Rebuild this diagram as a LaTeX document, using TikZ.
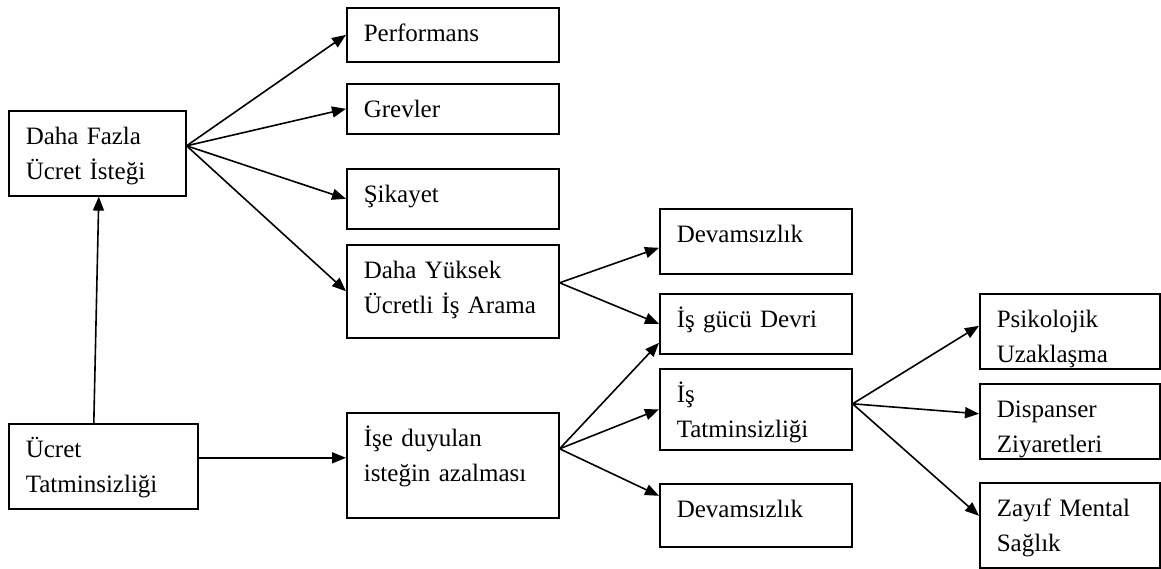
\documentclass[tikz,border=0pt]{standalone}
\usepackage{fontspec}
\setmainfont{Liberation Serif}
\usetikzlibrary{arrows.meta}

\begin{document}
\begin{tikzpicture}[>={Triangle[width=11pt,length=14pt]}, line width=1.6pt, kutu/.style={draw, anchor=north west, align=left, inner xsep=17pt, inner ysep=0pt, text height=34pt, font=\fontsize{25}{34.5}\selectfont}]
	\useasboundingbox (0pt, 0pt) rectangle (1161pt, -568pt);
	\draw (8.0pt, -110.0pt)node[kutu, text width=143pt, text depth=51pt](0){Daha Fazla\\Ücret İsteği};
	\draw (346.0pt, -7.0pt)node[kutu, text width=178pt, text depth=20pt](1){Performans};
	\draw (346.0pt, -83.0pt)node[kutu, text width=178pt, text depth=16pt](2){Grevler};
	\draw (346.0pt, -168.0pt)node[kutu, text width=178pt, text depth=26pt](3){Şikayet};
	\draw (346.0pt, -244.0pt)node[kutu, text width=178pt, text depth=59pt](4){Daha Yüksek\\Ücretli İş Arama};
	\draw (8.0pt, -423.0pt)node[kutu, text width=155pt, text depth=51pt](5){Ücret\\Tatminsizliği};
	\draw (346.0pt, -412.0pt)node[kutu, text width=178pt, text depth=71pt](6){İşe duyulan\\isteğin azalması};
	\draw (659.0pt, -208.0pt)node[kutu, text width=158pt, text depth=31pt](7){Devamsızlık};
	\draw (659.0pt, -293.0pt)node[kutu, text width=158pt, text depth=26pt](8){İş gücü Devri};
	\draw (659.0pt, -368.0pt)node[kutu, text width=158pt, text depth=47pt](9){İş\\Tatminsizliği};
	\draw (659.0pt, -483.0pt)node[kutu, text width=158pt, text depth=29pt](10){Devamsızlık};
	\draw (979.0pt, -293.0pt)node[kutu, text width=146pt, text depth=41pt](11){Psikolojik\\Uzaklaşma};
	\draw (979.0pt, -383.0pt)node[kutu, text width=146pt, text depth=41pt](12){Dispanser\\Ziyaretleri};
	\draw (979.0pt, -482.0pt)node[kutu, text width=146pt, text depth=51pt](13){Zayıf Mental\\Sağlık};
	\path[->] ([yshift=7.5pt]0.east) edge (1.west);
	\path[->] ([yshift=7.5pt]0.east) edge (2.west);
	\path[->] ([yshift=7.5pt]0.east) edge (3.west);
	\path[->] ([yshift=7.5pt]0.east) edge (4.west);
	\path[->] ([xshift=-9.5pt]5.north) edge ([xshift=1.5pt]0.south);
	\path[->] ([yshift=8.5pt]5.east) edge ([yshift=7.5pt]6.west);
	\path[->] ([yshift=8.5pt]4.east) edge ([yshift=-6.5pt]7.west);
	\path[->] ([yshift=8.5pt]4.east) edge (8.west);
	\path[->] ([yshift=16.5pt]6.east) edge ([yshift=-19pt]8.west);
	\path[->] ([yshift=16.5pt]6.east) edge (9.west);
	\path[->] ([yshift=16.5pt]6.east) edge ([yshift=19.5pt]10.west);
	\path[->] ([yshift=5.5pt]9.east) edge ([yshift=5.5pt]11.west);
	\path[->] ([yshift=5.5pt]9.east) edge ([yshift=7.5pt]12.west);
	\path[->] ([yshift=5.5pt]9.east) edge ([yshift=9.5pt]13.west);
\end{tikzpicture}
\end{document}
